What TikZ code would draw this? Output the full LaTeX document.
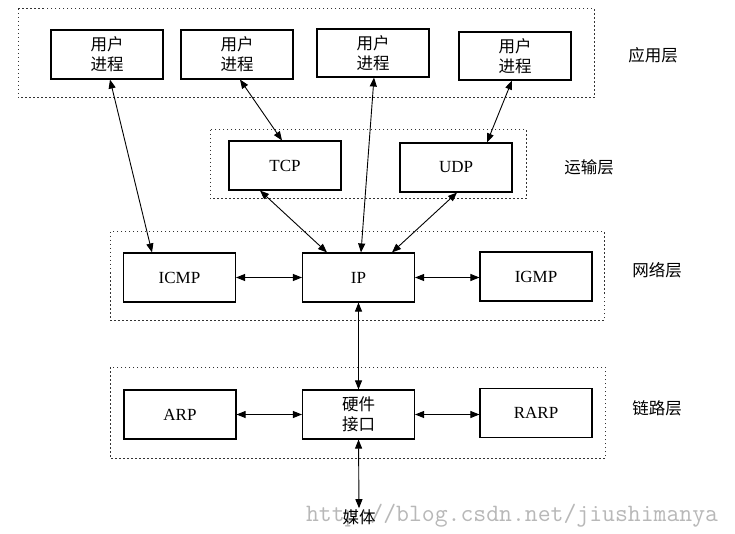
\documentclass[tikz,border=0pt]{standalone}
\usepackage{fontspec}
\setmainfont{Liberation Serif}
\newfontfamily\cjk{Noto Sans CJK SC}
\usetikzlibrary{arrows.meta,calc}
\tikzset{
  box/.style={draw=black, line width=1.1pt, minimum width=112pt, minimum height=49pt, inner sep=0pt, align=center, font=\fontsize{17}{17}\selectfont},
  cbox/.style={box, font=\cjk\fontsize{16.5}{20}\selectfont},
  group/.style={draw=black!80, line width=1pt, dash pattern=on 1.5pt off 2.5pt},
  lbl/.style={font=\cjk\fontsize{16.5}{16.5}\selectfont, inner sep=0pt},
  link/.style={line width=0.9pt, {Triangle[length=9pt,width=7pt]}-{Triangle[length=9pt,width=7pt]}},
}
\begin{document}
\begin{tikzpicture}[x=1pt,y=-1pt]
\useasboundingbox[fill=white] (0,0) rectangle (735,534);
% watermark
\node[text=black!28, font=\ttfamily\fontsize{25}{25}\selectfont, inner sep=0pt] (wm) at (512,516) {http://blog.csdn.net/jiushimanya};
% layer groups
\draw[group] (18,9) rectangle (594,98);
\draw[group] (210,130) rectangle (526,199);
\draw[group] (110,232) rectangle (604,320);
\draw[group] (110,367) rectangle (605,458);
% layer labels
\node[lbl] (lapp) at (653,55) {应用层};
\node[lbl] (ltrans) at (589,167) {运输层};
\node[lbl] (lnet) at (657,270) {网络层};
\node[lbl] (llink) at (657,408) {链路层};
% application
\node[cbox] (u1) at (107,54.5) {用户\\进程};
\node[cbox] (u2) at (237,54.5) {用户\\进程};
\node[cbox, minimum height=48pt] (u3) at (373,53) {用户\\进程};
\node[cbox, minimum height=48pt] (u4) at (515,56) {用户\\进程};
% transport
\node[box] (tcp) at (285,165.5) {TCP};
\node[box] (udp) at (456,167.5) {UDP};
% network
\node[box] (icmp) at (179.5,277.5) {ICMP};
\node[box] (ip) at (358.5,277.5) {IP};
\node[box] (igmp) at (536,276.5) {IGMP};
% link
\node[box] (arp) at (180,414.5) {ARP};
\node[cbox] (hw) at (358.5,414.5) {硬件\\接口};
\node[box] (rarp) at (536,413) {RARP};
% media
\node[font=\cjk\fontsize{16.5}{16.5}\selectfont, inner sep=1pt] (media) at (359,517) {媒体};
% connectors
\draw[link] ([xshift=3pt]u1.south) -- ([xshift=-27.5pt]icmp.north);
\draw[link] ([xshift=3pt]u2.south) -- ([xshift=-3pt]tcp.north);
\draw[link] ([xshift=1pt]u3.south) -- ([xshift=2.5pt]ip.north);
\draw[link] ([xshift=-3pt]u4.south) -- ([xshift=31pt]udp.north);
\draw[link] ([xshift=-25pt]tcp.south) -- ([xshift=-31.5pt]ip.north);
\draw[link] ([xshift=1pt]udp.south) -- ([xshift=33.5pt]ip.north);
\draw[link] (icmp.east) -- (ip.west);
\draw[link] (ip.east) -- (ip.east -| igmp.west);
\draw[link] (ip.south) -- (hw.north);
\draw[link] (arp.east) -- (hw.west);
\draw[link] (hw.east) -- (hw.east -| rarp.west);
\draw[link] (hw.south) -- (media.north);
\end{tikzpicture}
\end{document}
